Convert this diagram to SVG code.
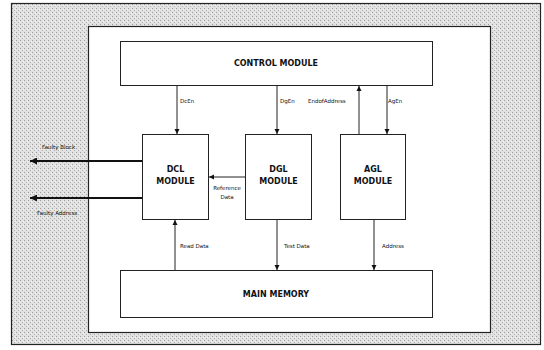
<svg xmlns="http://www.w3.org/2000/svg" width="544" height="350" viewBox="0 0 544 350">
<style>
.box{fill:#fff;stroke:#222;stroke-width:1}
.t{font-family:"DejaVu Sans","Liberation Sans",sans-serif;font-weight:bold;font-size:8px;fill:#111;text-anchor:middle}
.l{font-family:"DejaVu Sans","Liberation Sans",sans-serif;font-size:5.5px;fill:#111}
.c{stroke:#222;stroke-width:1;fill:none}
.w{stroke:#111;stroke-width:2;fill:none}
</style>
<defs>
<pattern id="stip" width="4" height="4" patternUnits="userSpaceOnUse">
<rect width="4" height="4" fill="#e2e2e2"/>
<rect x="0" y="0" width="1" height="1" fill="#9a9a9a"/>
<rect x="2" y="2" width="1" height="1" fill="#b0b0b0"/>
<rect x="3" y="1" width="1" height="1" fill="#f4f4f4"/>
</pattern>
<marker id="ah" viewBox="0 0 10 10" refX="10" refY="5" markerWidth="5" markerHeight="6" orient="auto" markerUnits="userSpaceOnUse">
<path d="M0,0 L10,5 L0,10 z" fill="#111"/>
</marker>
<marker id="ahw" viewBox="0 0 10 10" refX="10" refY="5" markerWidth="8" markerHeight="7" orient="auto" markerUnits="userSpaceOnUse">
<path d="M0,0 L10,5 L0,10 z" fill="#111"/>
</marker>
</defs>
<rect x="0" y="0" width="544" height="350" fill="#fff"/>
<rect x="11.5" y="3.5" width="529" height="341" fill="url(#stip)" stroke="#222" stroke-width="1.2"/>
<rect id="panel" x="88.5" y="26.5" width="402" height="306" fill="#fff" stroke="#222" stroke-width="1.2"/>

<g id="control-module">
<rect class="box" x="120.5" y="41.5" width="312" height="44"/>
<text class="t" x="276" y="66">CONTROL MODULE</text>
</g>
<g id="dcl-module">
<rect class="box" x="142.5" y="134.5" width="66" height="85"/>
<text class="t" x="175.5" y="172">DCL</text>
<text class="t" x="175.5" y="184">MODULE</text>
</g>
<g id="dgl-module">
<rect class="box" x="245.5" y="134.5" width="66" height="85"/>
<text class="t" x="278.5" y="172">DGL</text>
<text class="t" x="278.5" y="184">MODULE</text>
</g>
<g id="agl-module">
<rect class="box" x="340.5" y="134.5" width="65" height="85"/>
<text class="t" x="373" y="172">AGL</text>
<text class="t" x="373" y="184">MODULE</text>
</g>
<g id="main-memory">
<rect class="box" x="120.5" y="270.5" width="312" height="47"/>
<text class="t" x="276" y="297">MAIN MEMORY</text>
</g>

<g id="connectors">
<line class="c" x1="177" y1="86" x2="177" y2="134" marker-end="url(#ah)"/>
<line class="c" x1="277" y1="86" x2="277" y2="134" marker-end="url(#ah)"/>
<line class="c" x1="359" y1="134" x2="359" y2="86" marker-end="url(#ah)"/>
<line class="c" x1="387" y1="86" x2="387" y2="134" marker-end="url(#ah)"/>
<line class="c" x1="245" y1="177" x2="209" y2="177" marker-end="url(#ah)"/>
<line class="c" x1="175" y1="270" x2="175" y2="220" marker-end="url(#ah)"/>
<line class="c" x1="277" y1="220" x2="277" y2="270" marker-end="url(#ah)"/>
<line class="c" x1="374" y1="220" x2="374" y2="270" marker-end="url(#ah)"/>
<line class="w" x1="142" y1="161" x2="30" y2="161" marker-end="url(#ahw)"/>
<line class="w" x1="142" y1="198" x2="30" y2="198" marker-end="url(#ahw)"/>
<text class="l" x="180" y="103">DcEn</text>
<text class="l" x="280" y="103">DgEn</text>
<text class="l" x="308" y="103">EndofAddress</text>
<text class="l" x="388" y="103">AgEn</text>
<text class="l" x="42" y="149">Faulty Block</text>
<text class="l" x="37" y="215">Faulty Address</text>
<text class="l" x="227" y="190" text-anchor="middle">Reference</text>
<text class="l" x="227" y="199" text-anchor="middle">Data</text>
<text class="l" x="180" y="248">Read Data</text>
<text class="l" x="284" y="248">Test Data</text>
<text class="l" x="382" y="248">Address</text>
</g>
</svg>
